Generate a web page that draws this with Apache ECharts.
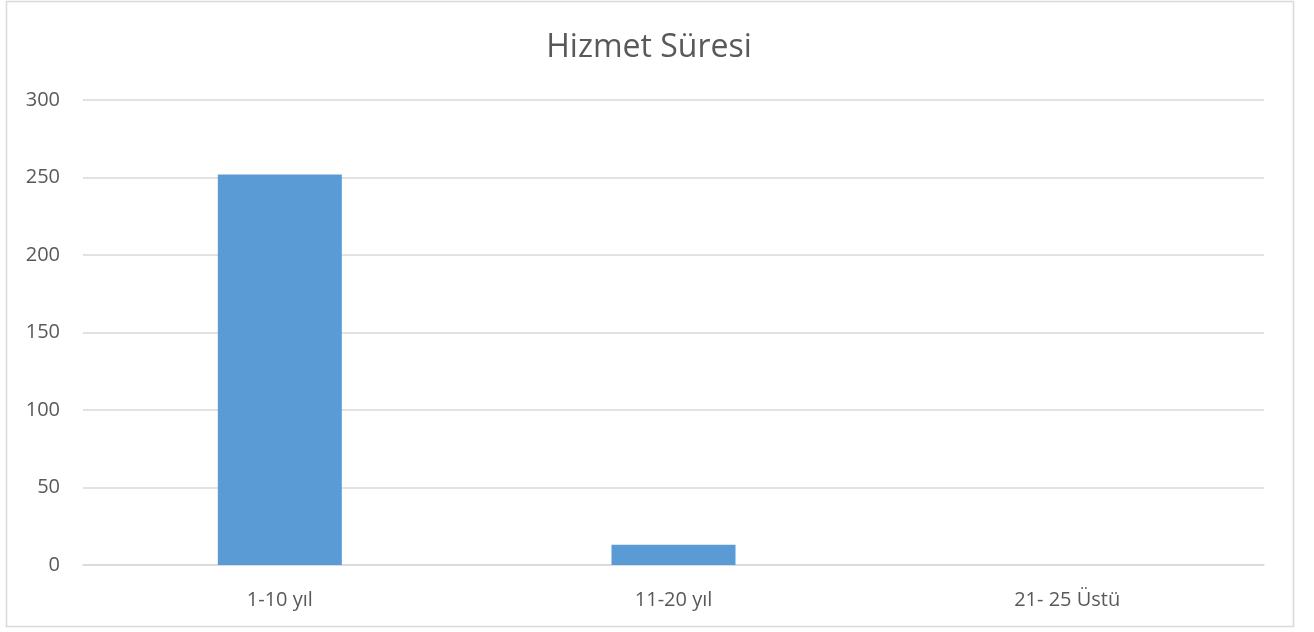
<!DOCTYPE html>
<html>
<head>
<meta charset="utf-8">
<script src="https://cdn.jsdelivr.net/npm/echarts@6/dist/echarts.min.js"></script>
<style>
  html, body { margin: 0; padding: 0; background: #fff; }
  #chart { width: 1314px; height: 632px; }
</style>
</head>
<body>
<div id="chart"></div>
<script>
// kategoriler ve değerler
var categories = ["1-10 yıl", "11-20 yıl", "21- 25 Üstü"];
var values = [252, 13, 0];
var yTicks = { min: 0, max: 300, step: 50 };

var chart = echarts.init(document.getElementById("chart"));
var textColor = "#595959";
var lineColor = "#d9d9d9";

chart.setOption({
  animation: false,
  textStyle: { fontFamily: "Open Sans" },
  title: {
    text: "Hizmet Süresi",
    left: 644,
    textAlign: "center",
    top: 27,
    textStyle: { fontSize: 32, fontWeight: "normal", color: textColor, fontFamily: "Open Sans" }
  },
  graphic: [{
    type: "rect",
    shape: { x: 6.5, y: 1.5, width: 1287, height: 625 },
    style: { fill: "none", stroke: lineColor, lineWidth: 1.5 },
    silent: true
  }],
  grid: { left: 83, right: 50, top: 100, bottom: 67 },
  xAxis: {
    type: "category",
    data: categories,
    axisTick: { show: false },
    axisLine: { lineStyle: { color: lineColor, width: 1.5 } },
    axisLabel: { color: textColor, fontSize: 20, margin: 25 }
  },
  yAxis: {
    type: "value",
    min: yTicks.min,
    max: yTicks.max,
    interval: yTicks.step,
    axisLine: { show: false },
    axisTick: { show: false },
    axisLabel: { color: textColor, fontSize: 20, margin: 23 },
    splitLine: { lineStyle: { color: lineColor, width: 1.5 } }
  },
  series: [{
    type: "bar",
    data: values,
    barWidth: "31.5%",
    itemStyle: { color: "#5b9bd5" }
  }]
});
</script>
</body>
</html>
